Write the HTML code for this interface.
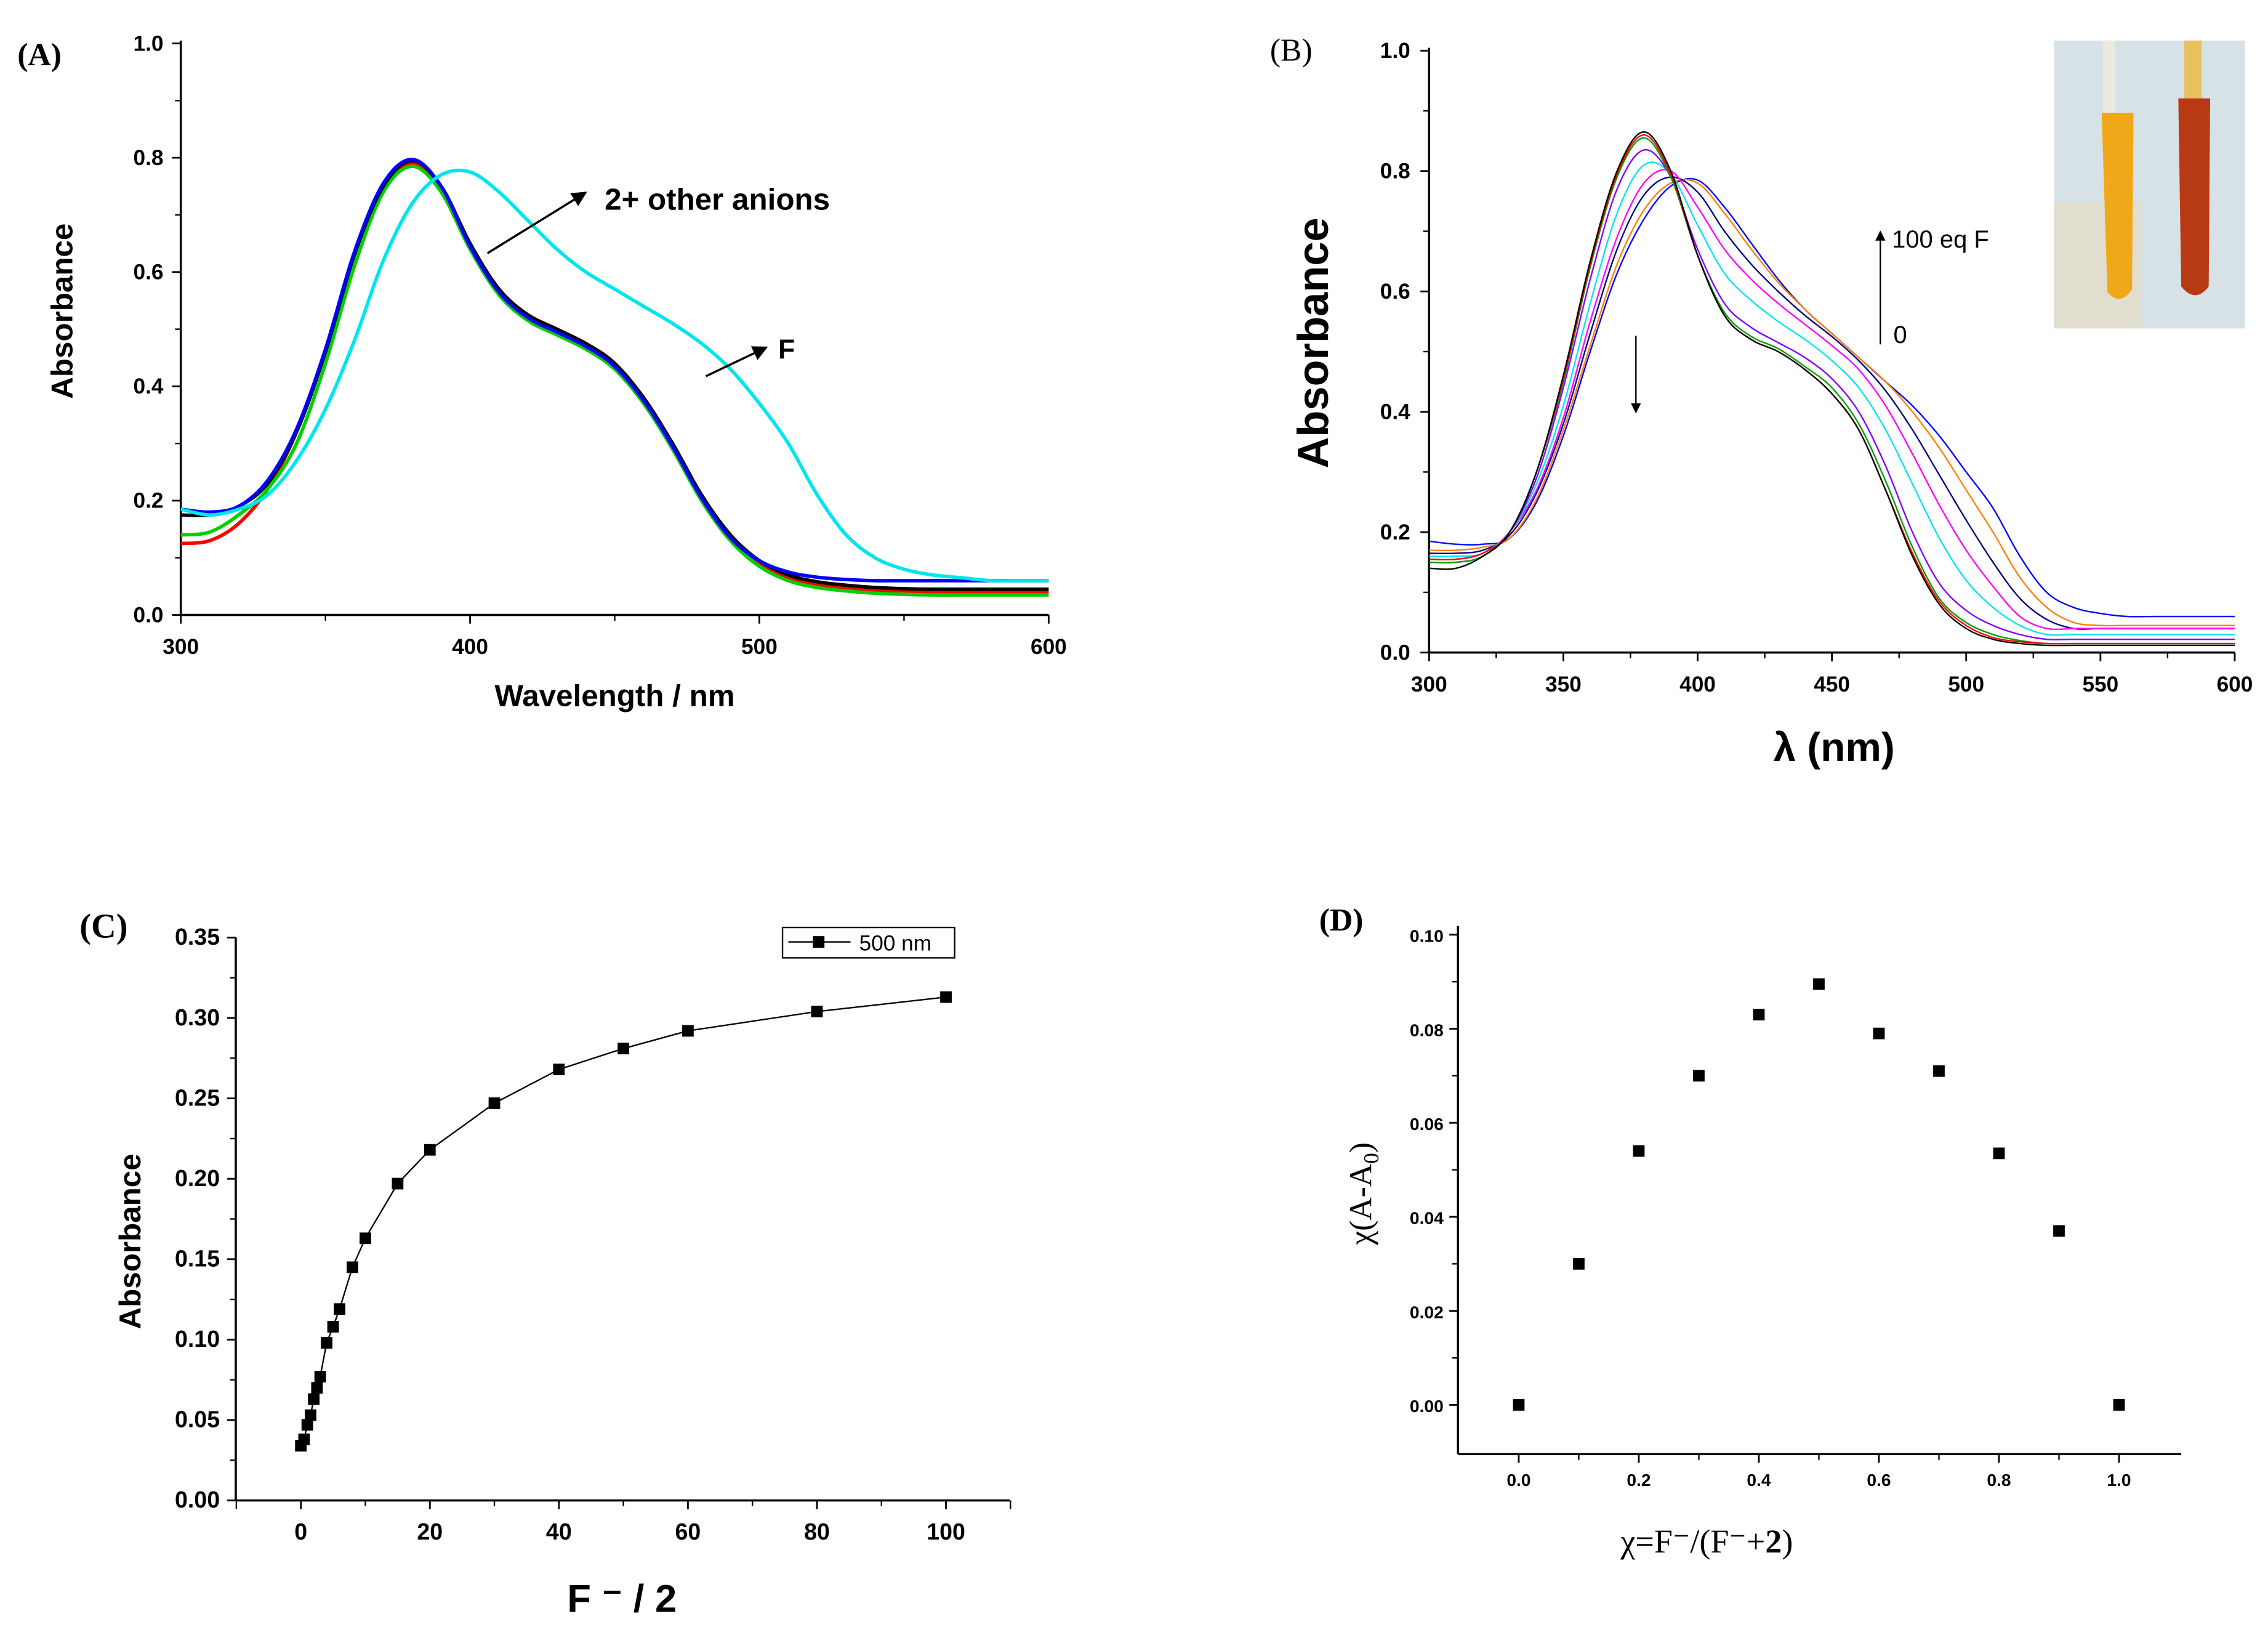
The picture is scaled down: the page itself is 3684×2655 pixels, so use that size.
<!DOCTYPE html>
<html><head><meta charset="utf-8"><style>
html,body{margin:0;padding:0;background:#fff;}
svg{display:block;}
.tk{font-family:"Liberation Sans",sans-serif;font-weight:bold;}
.ser{font-family:"Liberation Serif",serif;}
</style></head><body>
<svg id="fig" width="3684" height="2655" viewBox="0 0 1568 1130" xmlns="http://www.w3.org/2000/svg">
<rect width="1568" height="1130" fill="#fff"/>
<g id="A"></g>
<g id="B"></g>
<g id="C"></g>
<g id="D"></g>
</svg>
<script>
// ---------- data ----------
const wl = [300,310,320,330,340,350,360,370,380,390,400,410,420,430,440,450,460,470,480,490,500,510,520,530,540,550,560,570,580,590,600];
const aBlack = [.175,.175,.19,.23,.32,.46,.63,.75,.795,.75,.65,.57,.525,.50,.475,.44,.38,.30,.21,.14,.095,.07,.058,.052,.048,.046,.045,.045,.045,.045,.045];
const aBlue  = [.185,.18,.19,.235,.325,.465,.635,.755,.797,.75,.645,.565,.52,.495,.47,.435,.375,.295,.205,.135,.095,.075,.066,.062,.06,.06,.06,.06,.06,.06,.06];
const aRed   = [.125,.13,.16,.22,.32,.46,.63,.75,.79,.745,.645,.565,.525,.50,.475,.44,.375,.295,.205,.135,.09,.065,.052,.046,.043,.042,.04,.04,.04,.04,.04];
const aGreen = [.14,.145,.175,.22,.30,.44,.61,.74,.785,.74,.64,.56,.515,.49,.465,.43,.37,.29,.20,.13,.085,.06,.048,.042,.038,.036,.035,.035,.035,.035,.035];
const aCyan  = [.185,.175,.185,.21,.27,.36,.48,.62,.72,.77,.775,.74,.69,.64,.60,.57,.54,.51,.475,.43,.37,.30,.21,.14,.10,.08,.07,.065,.06,.06,.06];

const bC0 = [.14,.14,.16,.20,.30,.46,.65,.80,.865,.80,.66,.56,.52,.50,.47,.43,.37,.27,.16,.08,.04,.022,.015,.012,.012,.012,.012,.012,.012,.012,.012];
const bRed= [.155,.155,.165,.20,.30,.455,.645,.795,.86,.795,.66,.56,.52,.50,.47,.43,.37,.27,.165,.085,.045,.025,.018,.015,.015,.015,.015,.015,.015,.015,.015];
const bM1 = [.15,.15,.16,.20,.30,.45,.64,.79,.855,.79,.66,.565,.525,.505,.475,.44,.38,.285,.175,.09,.05,.03,.02,.015,.015,.015,.015,.015,.015,.015,.015];
const bM2 = [.15,.15,.16,.20,.29,.44,.62,.77,.835,.79,.67,.58,.54,.515,.49,.455,.40,.31,.20,.115,.07,.045,.03,.022,.022,.022,.022,.022,.022,.022,.022];
const bM3 = [.16,.16,.165,.20,.28,.41,.58,.73,.81,.795,.71,.63,.585,.55,.52,.485,.44,.37,.28,.19,.12,.075,.045,.03,.03,.03,.03,.03,.03,.03,.03];
const bM4 = [.16,.16,.165,.20,.27,.39,.55,.69,.78,.80,.74,.67,.62,.58,.545,.51,.47,.41,.33,.245,.17,.11,.06,.04,.04,.04,.04,.04,.04,.04,.04];
const bM5 = [.165,.165,.17,.195,.265,.38,.53,.67,.76,.79,.765,.70,.645,.60,.56,.525,.485,.435,.37,.295,.22,.15,.09,.055,.04,.04,.04,.04,.04,.04,.04];
const bM6 = [.17,.17,.175,.19,.255,.37,.51,.645,.735,.78,.78,.73,.67,.615,.57,.53,.49,.45,.40,.34,.27,.20,.125,.075,.05,.045,.045,.045,.045,.045,.045];
const bEnd= [.185,.18,.18,.19,.25,.36,.50,.63,.72,.775,.785,.74,.68,.62,.57,.53,.49,.45,.41,.36,.30,.24,.16,.10,.075,.065,.06,.06,.06,.06,.06];

const cX = [0,0.5,1,1.5,2,2.5,3,4,5,6,8,10,15,20,30,40,50,60,80,100];
const cY = [.034,.038,.047,.053,.063,.070,.077,.098,.108,.119,.145,.163,.197,.218,.247,.268,.281,.292,.304,.313];

const dX = [0,0.1,0.2,0.3,0.4,0.5,0.6,0.7,0.8,0.9,1.0];
const dY = [0,.030,.054,.070,.083,.0895,.079,.071,.0535,.037,0];

const aXTicks = [300,400,500,600];
const aYTicks = [0.0,0.2,0.4,0.6,0.8,1.0];
const bXTicks = [300,350,400,450,500,550,600];
const bYTicks = [0.0,0.2,0.4,0.6,0.8,1.0];
const cXTicks = [0,20,40,60,80,100];
const cYTicks = [0.00,0.05,0.10,0.15,0.20,0.25,0.30,0.35];
const dXTicks = [0.0,0.2,0.4,0.6,0.8,1.0];
const dYTicks = [0.00,0.02,0.04,0.06,0.08,0.10];

// ---------- helpers ----------
const NS="http://www.w3.org/2000/svg";
function mk(parent,tag,attrs,text){const e=document.createElementNS(NS,tag);for(const k in attrs)e.setAttribute(k,attrs[k]);if(text!==undefined)e.textContent=text;parent.appendChild(e);return e;}
function lin(d0,d1,r0,r1){return v=>r0+(v-d0)*(r1-r0)/(d1-d0);}
function smooth(pts){let d="M"+pts[0][0].toFixed(2)+","+pts[0][1].toFixed(2);for(let i=0;i<pts.length-1;i++){const p0=pts[i-1]||pts[i],p1=pts[i],p2=pts[i+1],p3=pts[i+2]||p2;const c1=[p1[0]+(p2[0]-p0[0])/6,p1[1]+(p2[1]-p0[1])/6],c2=[p2[0]-(p3[0]-p1[0])/6,p2[1]-(p3[1]-p1[1])/6];d+="C"+c1[0].toFixed(2)+","+c1[1].toFixed(2)+" "+c2[0].toFixed(2)+","+c2[1].toFixed(2)+" "+p2[0].toFixed(2)+","+p2[1].toFixed(2);}return d;}
function axes(g,x,y,xr,yr,xt,yt,fmtX,fmtY,fs,xly,ylx){
  const xa=mk(g,'line',{x1:xr[0],x2:xr[1],y1:yr[0],y2:yr[0],stroke:'#000','stroke-width':1.5});
  
  const ya=mk(g,'line',{x1:xr[0],x2:xr[0],y1:yr[0],y2:yr[1],stroke:'#000','stroke-width':1.5});
  
  xt.forEach((v,i)=>{const px=x(v);mk(g,'line',{x1:px,x2:px,y1:yr[0],y2:yr[0]+6,stroke:'#000','stroke-width':1.2});
    const t=mk(g,'text',{x:px,y:xly,'text-anchor':'middle',class:'tk','font-size':fs},fmtX(v));
    
    if(i<xt.length-1){const m=x((v+xt[i+1])/2);mk(g,'line',{x1:m,x2:m,y1:yr[0],y2:yr[0]+4,stroke:'#000','stroke-width':1});}});
  yt.forEach((v,i)=>{const py=y(v);mk(g,'line',{x1:xr[0]-6,x2:xr[0],y1:py,y2:py,stroke:'#000','stroke-width':1.2});
    const t=mk(g,'text',{x:ylx,y:py+5,'text-anchor':'end',class:'tk','font-size':fs},fmtY(v));
    
    if(i<yt.length-1){const m=y((v+yt[i+1])/2);mk(g,'line',{x1:xr[0]-4,x2:xr[0],y1:m,y2:m,stroke:'#000','stroke-width':1});}});
}
function defsArrow(svg){const d=mk(svg,'defs',{});const m=mk(d,'marker',{id:'ah',viewBox:'0 0 10 10',refX:9,refY:5,markerWidth:7,markerHeight:7,orient:'auto'});mk(m,'path',{d:'M0,0 L10,5 L0,10 z',fill:'#000'});}
const svg=document.getElementById('fig');defsArrow(svg);

// ---------- Panel A ----------
(function(){
const g=document.getElementById('A');
const x=lin(300,600,125,725), y=lin(0,1,425,30);
axes(g,x,y,[125,725],[425,28],aXTicks,aYTicks,v=>v,v=>v.toFixed(1),15,452,113);
const series=[[aRed,'#ff0000','series-red'],[aGreen,'#00d000','series-green'],[aBlack,'#000','series-black'],[aBlue,'#0000ff','series-blue'],[aCyan,'#00e5ee','series-f-cyan']];
series.forEach(s=>{const p=mk(g,'path',{d:smooth(wl.map((w,i)=>[x(w),y(s[0][i])])),fill:'none',stroke:s[1],'stroke-width':2.4});
  });
let t=mk(g,'text',{x:12,y:45,class:'ser','font-size':22,'font-weight':'bold'},'(A)');
t=mk(g,'text',{x:50,y:215,transform:'rotate(-90 50 215)','text-anchor':'middle',class:'tk','font-size':21},'Absorbance');
t=mk(g,'text',{x:425,y:488,'text-anchor':'middle',class:'tk','font-size':21},'Wavelength / nm');
mk(g,'line',{x1:337,y1:175,x2:405,y2:133,stroke:'#000','stroke-width':1.5,'marker-end':'url(#ah)'});
t=mk(g,'text',{x:418,y:145,class:'tk','font-size':21},'2+ other anions');
mk(g,'line',{x1:488,y1:260,x2:530,y2:240,stroke:'#000','stroke-width':1.5,'marker-end':'url(#ah)'});
t=mk(g,'text',{x:538,y:248,class:'tk','font-size':19},'F');
})();

// ---------- Panel B ----------
(function(){
const g=document.getElementById('B');
const x=lin(300,600,988,1545), y=lin(0,1,451,35);
axes(g,x,y,[988,1545],[451,33],bXTicks,bYTicks,v=>v,v=>v.toFixed(1),15,478,975);
const series=[[bEnd,'#0000ff','series-100eq'],[bM6,'#ff8000','series-m6'],[bM5,'#000080','series-m5'],[bM4,'#ff00ff','series-m4'],[bM3,'#00e5ee','series-m3'],[bM2,'#8000ff','series-m2'],[bM1,'#00a000','series-m1'],[bRed,'#ff0000','series-red'],[bC0,'#000','series-0eq']];
series.forEach(s=>{const p=mk(g,'path',{d:smooth(wl.map((w,i)=>[x(w),y(s[0][i])])),fill:'none',stroke:s[1],'stroke-width':1});
  });
let t=mk(g,'text',{x:878,y:42,class:'ser','font-size':22},'(B)');
t=mk(g,'text',{x:918,y:237,transform:'rotate(-90 918 237)','text-anchor':'middle',class:'tk','font-size':30},'Absorbance');
t=mk(g,'text',{x:1268,y:526,'text-anchor':'middle',class:'tk','font-size':28},'λ (nm)');
mk(g,'line',{x1:1131,y1:232,x2:1131,y2:285,stroke:'#000','stroke-width':1,'marker-end':'url(#ah)'});
mk(g,'line',{x1:1300,y1:238,x2:1300,y2:160,stroke:'#000','stroke-width':1,'marker-end':'url(#ah)'});
t=mk(g,'text',{x:1308,y:171,'font-family':'Liberation Sans,sans-serif','font-size':17},'100 eq F');
t=mk(g,'text',{x:1309,y:237,'font-family':'Liberation Sans,sans-serif','font-size':17},'0');
const ins=mk(g,'g',{});
mk(ins,'rect',{x:1420,y:28,width:132,height:199,fill:'#d6e2e6'});
mk(ins,'rect',{x:1420,y:140,width:60,height:87,fill:'#e8dcc0',opacity:.6});
mk(ins,'rect',{x:1454,y:28,width:8,height:50,fill:'#eceae0'});
mk(ins,'rect',{x:1510,y:28,width:12,height:45,fill:'#e8c060'});
mk(ins,'path',{d:'M1453,78 L1475,78 L1474,200 Q1466,212 1457,202 Z',fill:'#f0a818'});
mk(ins,'path',{d:'M1506,68 L1528,68 L1527,198 Q1518,210 1508,198 Z',fill:'#b83a14'});
})();

// ---------- Panel C ----------
(function(){
const g=document.getElementById('C');
const x=lin(0,100,208,654), y=lin(0,0.35,1037,648);
axes(g,x,y,[163,698],[1037,648],cXTicks,cYTicks,v=>v,v=>v.toFixed(2),16,1064,152);
mk(g,'line',{x1:x(-10),x2:x(-10),y1:1037,y2:1043,stroke:'#000'});mk(g,'line',{x1:x(110),x2:x(110),y1:1037,y2:1043,stroke:'#000'});
const p=mk(g,'polyline',{points:cX.map((v,i)=>x(v)+','+y(cY[i])).join(' '),fill:'none',stroke:'#000','stroke-width':1});

cX.forEach((v,i)=>{const r=mk(g,'rect',{x:x(v)-4,y:y(cY[i])-4,width:8,height:8,fill:'#000'});
  });
const lg=mk(g,'g',{});
mk(lg,'rect',{x:541,y:641,width:119,height:21,fill:'#fff',stroke:'#000','stroke-width':1});
mk(lg,'line',{x1:545,x2:588,y1:651,y2:651,stroke:'#000'});mk(lg,'rect',{x:562,y:647,width:8,height:8,fill:'#000'});
mk(lg,'text',{x:594,y:657,'font-family':'Liberation Sans,sans-serif','font-size':15},'500 nm');
let t=mk(g,'text',{x:55,y:648,class:'ser','font-size':24,'font-weight':'bold'},'(C)');
t=mk(g,'text',{x:97,y:858,transform:'rotate(-90 97 858)','text-anchor':'middle',class:'tk','font-size':21},'Absorbance');
t=mk(g,'text',{x:430,y:1114,'text-anchor':'middle',class:'tk','font-size':27},'F ⁻ / 2');
})();

// ---------- Panel D ----------
(function(){
const g=document.getElementById('D');
const x=lin(0,1,1050,1465), y=lin(0,0.1,971,646);
axes(g,x,y,[1008,1508],[1005,640],dXTicks,dYTicks,v=>v.toFixed(1),v=>v.toFixed(2),12,1027,998);
dX.forEach((v,i)=>{const r=mk(g,'rect',{x:x(v)-4,y:y(dY[i])-4,width:8,height:8,fill:'#000'});
  });
let t=mk(g,'text',{x:912,y:643,class:'ser','font-size':22,'font-weight':'bold'},'(D)');
t=mk(g,'text',{x:948,y:825,transform:'rotate(-90 948 825)','text-anchor':'middle',class:'ser','font-size':22},'χ(A-A');
mk(t,'tspan',{'font-size':15,dy:5},'0');mk(t,'tspan',{dy:-5},')');
t=mk(g,'text',{x:1180,y:1073,'text-anchor':'middle',class:'ser','font-size':23},'χ=F⁻/(F⁻+');
mk(t,'tspan',{'font-weight':'bold'},'2');mk(t,'tspan',{},')');
})();
</script>
</body></html>
